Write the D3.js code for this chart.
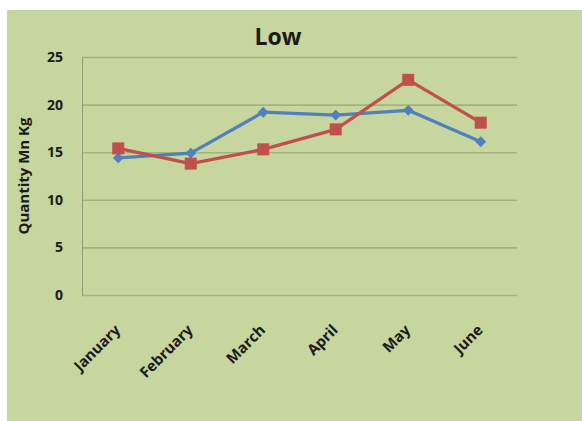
<!DOCTYPE html>
<html>
<head>
<meta charset="utf-8">
<script src="https://cdn.jsdelivr.net/npm/d3@7"></script>
<style>
  html, body { margin: 0; padding: 0; background: #ffffff; }
  svg { display: block; }
  text { font-family: "Open Sans", Lato, sans-serif; font-weight: 700; fill: #1a1a1a; }
</style>
</head>
<body>
<svg id="chart" width="582" height="421"></svg>
<script>
const months = ["January", "February", "March", "April", "May", "June"];
const blueSeries = [14.4, 14.9, 19.2, 18.9, 19.4, 16.1];
const redSeries = [15.4, 13.8, 15.3, 17.4, 22.6, 18.1];
const yTicks = [0, 5, 10, 15, 20, 25];
const chartTitle = "Low";
const yTitle = "Quantity Mn Kg";

const svg = d3.select("#chart");
const W = 582, H = 421;
const plot = { left: 82, right: 517, top: 57, bottom: 295 };
const fontStack = "'Open Sans', Lato, sans-serif";

// panel background
svg.append("rect")
  .attr("x", 7).attr("y", 10)
  .attr("width", W - 7).attr("height", H - 10)
  .attr("fill", "#c6d69e");

const x = d3.scaleBand().domain(months).range([plot.left, plot.right]);
const y = d3.scaleLinear().domain([0, 25]).range([plot.bottom, plot.top]);

// horizontal gridlines
svg.append("g")
  .attr("transform", `translate(${plot.left},0)`)
  .call(d3.axisLeft(y).tickValues(yTicks).tickSize(-(plot.right - plot.left)).tickFormat(""))
  .call(g => g.select(".domain").remove())
  .call(g => g.selectAll("line").attr("stroke", "#a2b37f").attr("stroke-width", 1.6));

// y axis line and labels
const yAxis = svg.append("g")
  .attr("transform", `translate(${plot.left},0)`)
  .call(d3.axisLeft(y).tickValues(yTicks).tickSize(0).tickPadding(19));
yAxis.select(".domain").attr("stroke", "#8e9c7a").attr("stroke-width", 1);
yAxis.selectAll("text")
  .style("font-family", fontStack).style("font-weight", 700)
  .attr("font-size", 14).attr("fill", "#1a1a1a");

// x axis labels, rotated
const xAxis = svg.append("g")
  .attr("transform", `translate(0,${plot.bottom})`)
  .call(d3.axisBottom(x).tickSize(0).tickPadding(0));
xAxis.select(".domain").remove();
xAxis.selectAll("text")
  .style("font-family", fontStack).style("font-weight", 700)
  .attr("font-size", 15).attr("fill", "#1a1a1a")
  .attr("text-anchor", "end")
  .attr("dy", 0).attr("y", 0)
  .attr("transform", "translate(3,36) rotate(-45)");

// title
svg.append("text")
  .attr("x", 278).attr("y", 45)
  .attr("text-anchor", "middle")
  .attr("font-size", 23)
  .text(chartTitle);

// y axis title
svg.append("text")
  .attr("transform", `translate(29,176) rotate(-90)`)
  .attr("text-anchor", "middle")
  .attr("font-size", 15)
  .text(yTitle);

const cx = m => x(m) + x.bandwidth() / 2;
const line = d3.line().x((d, i) => cx(months[i])).y(d => y(d));

// blue series
svg.append("path").datum(blueSeries)
  .attr("d", line).attr("fill", "none")
  .attr("stroke", "#4f81bd").attr("stroke-width", 3.2).attr("stroke-linejoin", "round");

// red series
svg.append("path").datum(redSeries)
  .attr("d", line).attr("fill", "none")
  .attr("stroke", "#c0504d").attr("stroke-width", 3.2).attr("stroke-linejoin", "round");

// diamond markers
svg.append("g").selectAll("path").data(blueSeries).join("path")
  .attr("d", d3.symbol(d3.symbolDiamond2 || d3.symbolDiamond, 75))
  .attr("transform", (d, i) => `translate(${cx(months[i])},${y(d)})`)
  .attr("fill", "#4f81bd");

// square markers
svg.append("g").selectAll("rect").data(redSeries).join("rect")
  .attr("x", (d, i) => cx(months[i]) - 6)
  .attr("y", d => y(d) - 6)
  .attr("width", 12).attr("height", 12)
  .attr("fill", "#c0504d");
</script>
</body>
</html>
